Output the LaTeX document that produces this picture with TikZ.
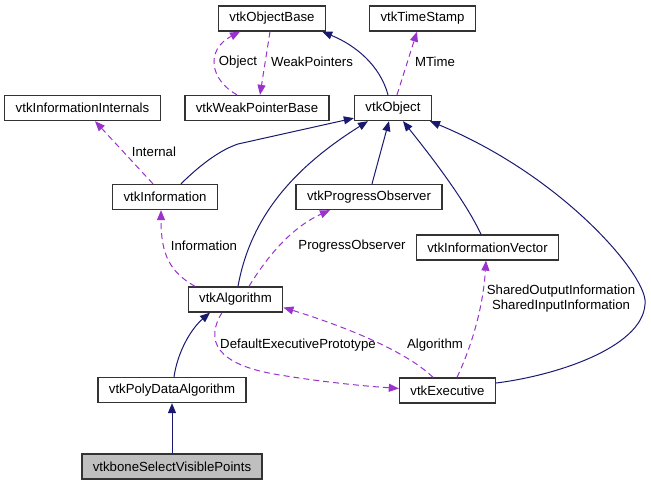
\documentclass[tikz,border=0pt]{standalone}
\usepackage{fontspec}
\setmainfont{Liberation Sans}
\usepackage{tikz}
\usetikzlibrary{arrows.meta}
\definecolor{inhcol}{HTML}{191970}
\definecolor{membcol}{HTML}{9A32CD}
\definecolor{focuscol}{HTML}{BFBFBF}
\tikzset{
  classnode/.style = {rectangle, draw=black!80, line width=1.3pt,
    inner xsep=11pt, inner ysep=0pt, minimum height=25pt,
    font=\fontsize{13.2}{15}\selectfont},
  1/.style = {classnode, fill=white},% classe ordinaire
  2/.style = {classnode, fill=focuscol},% classe de la page
  inherit/.style = {draw=inhcol, line width=1pt,
    -{Triangle[length=10pt,width=8pt]}},% heritage
  member/.style = {draw=membcol, line width=1pt, dash pattern=on 6pt off 4pt,
    -{Triangle[length=10pt,width=8pt]}},% membre
  lbl/.style = {inner sep=0pt, align=center,
    font=\fontsize{13.2}{15}\selectfont}
}

\begin{document}
\begin{tikzpicture}[x=1pt,y=-1pt]
\useasboundingbox (0,0) rectangle (651,485);
\node [1] (base) at (272,18.5) {vtkObjectBase};
\node [1] (stamp) at (422.5,18.5) {vtkTimeStamp};
\node [1] (internals) at (82.5,108) {vtkInformationInternals};
\node [1] (weak) at (257,108) {vtkWeakPointerBase};
\node [1] (object) at (393,108) {vtkObject};
\node [1] (info) at (165,197) {vtkInformation};
\node [1] (progress) at (369,197) {vtkProgressObserver};
\node [1] (infovec) at (487.5,247.5) {vtkInformationVector};
\node [1] (algo) at (235.5,299.5) {vtkAlgorithm};
\node [1] (polyalgo) at (172,390) {vtkPolyDataAlgorithm};
\node [1] (exec) at (447.5,390.5) {vtkExecutive};
\node [2] (bone) at (172,466.5) {vtkboneSelectVisiblePoints};

% heritage
\draw [inherit] ([xshift=-5pt]object.north) .. controls (380,65) and (355,45) .. ([xshift=-4pt]base.south east);
\draw [inherit] ([xshift=16pt]info.north) .. controls (200,165) and (220,150) .. (238,144) -- ([yshift=3pt]object.south west);
\draw [inherit] ([xshift=2.5pt]algo.north) .. controls (250,220) and (290,170) .. ([xshift=-25pt]object.south);
\draw [inherit] ([xshift=3pt]progress.north) -- ([xshift=-4pt]object.south);
\draw [inherit] ([xshift=-6.5pt]infovec.north) .. controls (465,200) and (430,155) .. ([xshift=10pt]object.south);
\draw [inherit] ([yshift=7.5pt]exec.east) .. controls (560,375) and (648,345) .. (645,300)
  .. controls (642,270) and (560,175) .. ([xshift=37pt]object.south);
\draw [inherit] ([xshift=2pt]polyalgo.north) .. controls (178,350) and (192,328) .. ([xshift=-25.5pt]algo.south);
\draw [inherit] (bone) -- (polyalgo);

% membres
\draw [member] ([xshift=-2pt]base.south) -- ([xshift=3pt]weak.north);
\draw [member] ([xshift=-20pt]weak.north) .. controls (210,80) and (205,50) .. ([xshift=-32pt]base.south);
\draw [member] ([xshift=4pt]object.north) -- ([xshift=-5.5pt]stamp.south);
\draw [member] ([xshift=-12pt]info.north) -- ([xshift=12.5pt]internals.south);
\draw [member] ([xshift=-40.5pt]algo.north) .. controls (170,272) and (161,255) .. ([xshift=-4pt]info.south);
\draw [member] ([xshift=13.5pt]algo.north) .. controls (265,260) and (290,228) .. ([xshift=-39pt]progress.south);
\draw [member] ([xshift=9.5pt]exec.north) .. controls (470,350) and (483,310) .. ([xshift=-1.5pt]infovec.south);
\draw [member] ([xshift=-14.5pt]exec.north) .. controls (405,350) and (340,325) .. ([yshift=-8pt]algo.east);
\draw [member] ([xshift=-13.5pt]algo.south) .. controls (205,340) and (215,365) .. (280,375)
  .. controls (310,380) and (350,385) .. ([yshift=2pt]exec.west);

\node [lbl] (lobject) at (238,62) {Object};
\node [lbl] (lweak) at (312,62) {WeakPointers};
\node [lbl] (lmtime) at (435,62) {MTime};
\node [lbl] (linternal) at (154,152) {Internal};
\node [lbl] (linfo) at (204,246) {Information};
\node [lbl] (lprogress) at (352,246) {ProgressObserver};
\node [lbl] (lshared) at (561,299) {SharedOutputInformation\\SharedInputInformation};
\node [lbl] (lalgo) at (435,345) {Algorithm};
\node [lbl] (ldefault) at (298,345) {DefaultExecutivePrototype};
\end{tikzpicture}
\end{document}
